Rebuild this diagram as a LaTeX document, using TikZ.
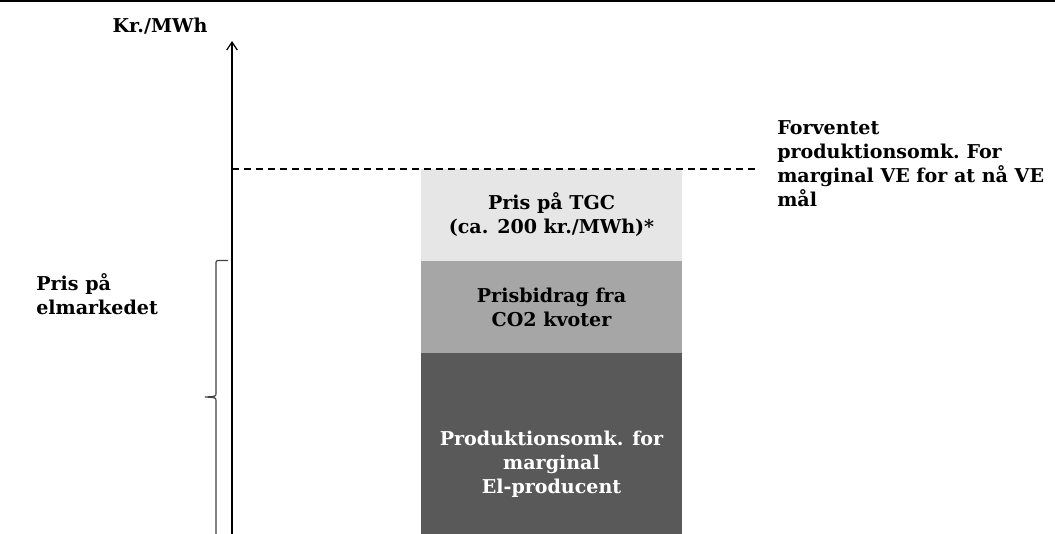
\documentclass[tikz,border=0pt]{standalone}
\usepackage{fontspec}
\setmainfont{DejaVu Serif}
\usepackage{xcolor}
\usepackage{tikz}
\usetikzlibrary{positioning, arrows.meta}
\definecolor{tgcGrey}{HTML}{E6E6E6}
\definecolor{co2Grey}{HTML}{A6A6A6}
\definecolor{prodGrey}{HTML}{595959}
\definecolor{braceGrey}{HTML}{404040}

\begin{document}
\begin{tikzpicture}[x=0.75pt, y=-0.75pt, font=\fontsize{14.3}{18}\selectfont\bfseries,
  pricebox/.style={minimum width=261*0.75pt, inner sep=0pt, outer sep=0pt, align=center},
  note/.style={align=left, inner sep=0pt}]
\useasboundingbox (0,0) rectangle (1055,533);
\clip (0,0) rectangle (1055,533);
\draw[line width=2.2pt] (0,1) -- (1055,1);
% boxes
\node[pricebox, fill=tgcGrey, minimum height=92*0.75pt, anchor=north west]
  (tgc) at (421,169) {Pris på TGC\\(ca. 200 kr./MWh)*};
\node[pricebox, fill=co2Grey, minimum height=92*0.75pt, below=0pt of tgc]
  (co2) {Prisbidrag fra\\CO2 kvoter};
\node[pricebox, fill=prodGrey, text=white, minimum height=222*0.75pt, below=0pt of co2]
  (prod) {Produktionsomk. for\\marginal\\El-producent};
% axis
\coordinate (axisbot) at (232,540);
\coordinate (axistop) at (232,41);
\draw[line width=0.9pt, -{Straight Barb[length=6pt, width=8pt]}] (axisbot) -- (axistop);
\node (unit) at (160,26) {Kr./MWh};
% target level
\coordinate (levelstart) at (232,169);
\coordinate (levelend) at (756,169);
\draw[line width=1pt, dash pattern=on 5.5pt off 3.5pt] (levelstart) -- (levelend);
\node[note, anchor=west] (target) at (777,164)
  {Forventet\\produktionsomk.\ For\\marginal VE for at nå VE\\mål};
% market price
\coordinate (bracetop) at (228,260.5);
\coordinate (bracetip) at (205,397);
\draw[braceGrey, line width=0.9pt]
  (bracetop) -- (220,260.5) .. controls (216,260.5) .. (216,265) -- (216,393)
  .. controls (216,396.5) .. (bracetip)
  .. controls (216,397.5) .. (216,401) -- (216,540);
\node[note, anchor=west] (market) at (36,294) {Pris på\\elmarkedet};
\end{tikzpicture}
\end{document}
